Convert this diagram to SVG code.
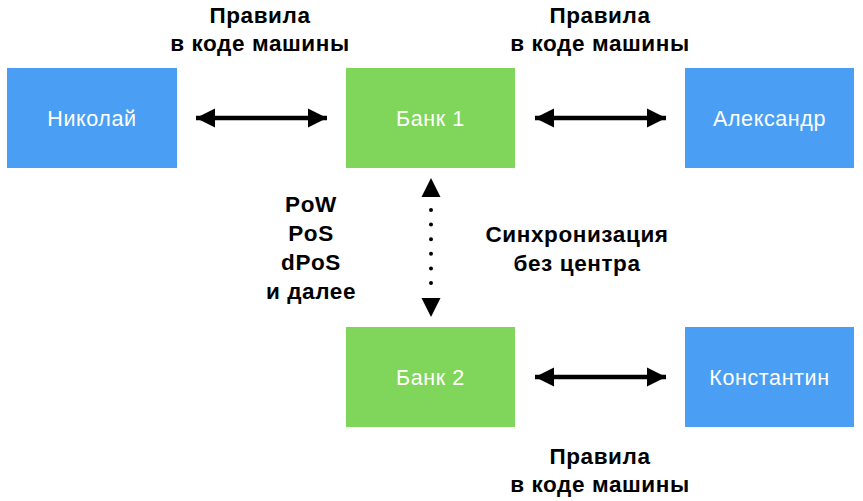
<svg xmlns="http://www.w3.org/2000/svg" width="863" height="501" viewBox="0 0 863 501">
<style>
.blue{fill:#4a9ff5}
.green{fill:#80d65a}
.nl{font-family:"Liberation Sans",Arial,sans-serif;font-size:21.5px;letter-spacing:0.6px;fill:#fff;text-anchor:middle}
.lb{font-family:"Liberation Sans",Arial,sans-serif;font-size:22.5px;letter-spacing:0.6px;font-weight:bold;fill:#000;text-anchor:middle}
.ln{stroke:#000;stroke-width:4.5;fill:none}
.dot{stroke:#000;stroke-width:4;stroke-linecap:round;stroke-dasharray:0 14.6;fill:none}
</style>
<defs>
<marker id="ah2" viewBox="0 0 10 10" refX="10" refY="5" markerWidth="19" markerHeight="21" markerUnits="userSpaceOnUse" orient="auto-start-reverse">
<path d="M0,0 L10,5 L0,10 z" fill="#000"/>
</marker>
</defs>
<g id="nikolay"><rect class="blue" x="7" y="68" width="170" height="100"/><text class="nl" x="92" y="126">Николай</text></g>
<g id="bank1"><rect class="green" x="346" y="68" width="169" height="100"/><text class="nl" x="430.5" y="126">Банк 1</text></g>
<g id="alexander"><rect class="blue" x="685" y="68" width="169" height="100"/><text class="nl" x="769.5" y="126">Александр</text></g>
<g id="bank2"><rect class="green" x="346" y="327" width="169" height="100"/><text class="nl" x="430.5" y="385">Банк 2</text></g>
<g id="konstantin"><rect class="blue" x="685" y="327" width="169" height="100"/><text class="nl" x="769.5" y="385">Константин</text></g>
<g id="connectors">
<line class="ln" x1="196" y1="118" x2="327" y2="118" marker-start="url(#ah2)" marker-end="url(#ah2)"/>
<line class="ln" x1="535" y1="118" x2="666" y2="118" marker-start="url(#ah2)" marker-end="url(#ah2)"/>
<line class="ln" x1="535" y1="377" x2="666" y2="377" marker-start="url(#ah2)" marker-end="url(#ah2)"/>
<path d="M431,178 L440.5,197 L421.5,197 z" fill="#000"/>
<path d="M431,317 L440.5,298 L421.5,298 z" fill="#000"/>
<line class="dot" x1="431" y1="210" x2="431" y2="286"/>
</g>
<g id="labels">
<text class="lb" x="260" y="23">Правила</text>
<text class="lb" x="260" y="51">в коде машины</text>
<text class="lb" x="600" y="23">Правила</text>
<text class="lb" x="600" y="51">в коде машины</text>
<text class="lb" x="600" y="464">Правила</text>
<text class="lb" x="600" y="492">в коде машины</text>
<text class="lb" x="311" y="212">PoW</text>
<text class="lb" x="311" y="241">PoS</text>
<text class="lb" x="311" y="270">dPoS</text>
<text class="lb" x="311" y="299">и далее</text>
<text class="lb" x="577" y="242">Синхронизация</text>
<text class="lb" x="577" y="271">без центра</text>
</g>
</svg>
